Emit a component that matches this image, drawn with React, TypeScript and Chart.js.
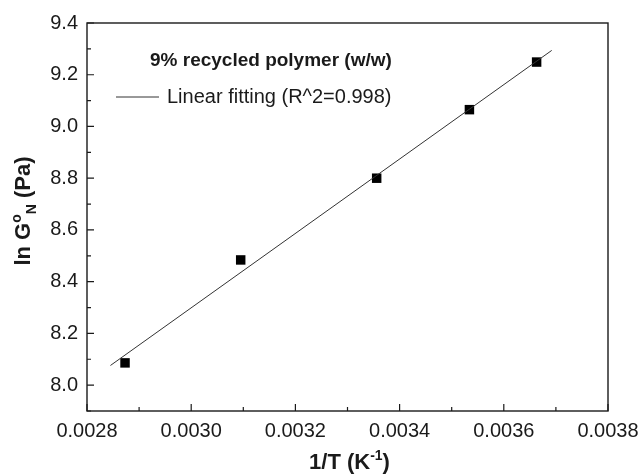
import React, { useEffect, useRef } from 'react';
import { Chart, registerables } from 'chart.js';

Chart.register(...registerables);

const invT = [0.002873, 0.003095, 0.003356, 0.003534, 0.003663];
const lnG = [8.086, 8.484, 8.8, 9.065, 9.249];
const fitX = [0.002845, 0.003692];
const fitY = [8.076, 9.294];
const xTicks = [0.0028, 0.003, 0.0032, 0.0034, 0.0036, 0.0038];
const xMinor = [0.0029, 0.0031, 0.0033, 0.0035, 0.0037];
const yTicks = [8.0, 8.2, 8.4, 8.6, 8.8, 9.0, 9.2, 9.4];
const yMinor = [7.9, 8.1, 8.3, 8.5, 8.7, 8.9, 9.1, 9.3];
const legendTitle = '9% recycled polymer (w/w)';
const fitLabel = 'Linear fitting (R^2=0.998)';

const FONT = 'Arial, "Liberation Sans", Helvetica, sans-serif';
const INK = '#1a1a1a';

const decorPlugin = {
  id: 'decor',
  afterDraw(chart: any) {
    const { ctx, chartArea: ca, scales } = chart;
    const xs = scales.x;
    const ys = scales.y;
    ctx.save();
    ctx.strokeStyle = INK;
    ctx.lineWidth = 1.4;
    ctx.strokeRect(ca.left, ca.top, ca.right - ca.left, ca.bottom - ca.top);
    ctx.lineWidth = 1.2;
    ctx.beginPath();
    xTicks.forEach((v) => {
      const px = xs.getPixelForValue(v);
      ctx.moveTo(px, ca.bottom);
      ctx.lineTo(px, ca.bottom - 7);
    });
    xMinor.forEach((v) => {
      const px = xs.getPixelForValue(v);
      ctx.moveTo(px, ca.bottom);
      ctx.lineTo(px, ca.bottom - 4);
    });
    yTicks.forEach((v) => {
      const py = ys.getPixelForValue(v);
      ctx.moveTo(ca.left, py);
      ctx.lineTo(ca.left + 7, py);
    });
    yMinor.forEach((v) => {
      const py = ys.getPixelForValue(v);
      ctx.moveTo(ca.left, py);
      ctx.lineTo(ca.left + 4, py);
    });
    ctx.stroke();

    // legend
    ctx.fillStyle = INK;
    ctx.textBaseline = 'middle';
    ctx.textAlign = 'left';
    ctx.font = `bold 19px ${FONT}`;
    ctx.fillText(legendTitle, 150, 61);
    ctx.strokeStyle = '#333';
    ctx.lineWidth = 1;
    ctx.beginPath();
    ctx.moveTo(116, 97);
    ctx.lineTo(159, 97);
    ctx.stroke();
    ctx.font = `20px ${FONT}`;
    ctx.fillText(fitLabel, 167, 97);

    // x title
    ctx.textBaseline = 'alphabetic';
    const big = `bold 22px ${FONT}`;
    const small = `bold 14px ${FONT}`;
    const p1 = '1/T (K';
    const sup = '-1';
    const p2 = ')';
    ctx.font = big;
    const w1 = ctx.measureText(p1).width;
    const w2 = ctx.measureText(p2).width;
    ctx.font = small;
    const ws = ctx.measureText(sup).width;
    const total = w1 + ws + w2;
    const x0 = (ca.left + ca.right) / 2 - total / 2 + 2;
    const by = 469;
    ctx.font = big;
    ctx.fillText(p1, x0, by);
    ctx.font = small;
    ctx.fillText(sup, x0 + w1, by - 9);
    ctx.font = big;
    ctx.fillText(p2, x0 + w1 + ws, by);

    // y title (rotated)
    ctx.save();
    ctx.translate(30, (ca.top + ca.bottom) / 2 - 6);
    ctx.rotate(-Math.PI / 2);
    const q1 = 'ln G';
    const qo = 'o';
    const qn = 'N';
    const q2 = ' (Pa)';
    ctx.font = big;
    const a1 = ctx.measureText(q1).width;
    const a2 = ctx.measureText(q2).width;
    ctx.font = small;
    const ao = ctx.measureText(qo).width;
    const an = ctx.measureText(qn).width;
    const tot = a1 + ao + an + a2;
    let sx = -tot / 2;
    ctx.font = big;
    ctx.fillText(q1, sx, 0);
    sx += a1;
    ctx.font = small;
    ctx.fillText(qo, sx, -9);
    sx += ao;
    ctx.fillText(qn, sx, 6);
    sx += an;
    ctx.font = big;
    ctx.fillText(q2, sx, 0);
    ctx.restore();

    ctx.restore();
  },
};

export default function App() {
  const ref = useRef<HTMLCanvasElement | null>(null);
  useEffect(() => {
    document.body.style.margin = '0';
    const canvas = ref.current;
    if (!canvas) return;
    const chart = new Chart(canvas, {
      type: 'scatter',
      data: {
        datasets: [
          {
            type: 'line',
            label: fitLabel,
            data: fitX.map((x, i) => ({ x, y: fitY[i] })),
            borderColor: '#333',
            borderWidth: 1,
            pointRadius: 0,
            fill: false,
          } as any,
          {
            label: legendTitle,
            data: invT.map((x, i) => ({ x, y: lnG[i] })),
            pointStyle: 'rect',
            pointRadius: 6.7,
            backgroundColor: '#000',
            borderColor: '#000',
            borderWidth: 0,
          },
        ],
      },
      options: {
        animation: false,
        responsive: false,
        maintainAspectRatio: false,
        layout: { padding: { top: 23, right: 32, left: 0, bottom: 0 } },
        plugins: { legend: { display: false }, tooltip: { enabled: false } },
        scales: {
          x: {
            type: 'linear',
            min: 0.0028,
            max: 0.0038,
            afterBuildTicks: (a: any) => {
              a.ticks = xTicks.map((v) => ({ value: v }));
            },
            afterFit: (a: any) => {
              a.height = 63;
              a.paddingLeft = 0;
              a.paddingRight = 0;
            },
            grid: { display: false, drawTicks: false },
            border: { display: false },
            ticks: {
              callback: (v: any) => Number(v).toFixed(4),
              font: { family: FONT, size: 20 },
              color: INK,
              padding: 8,
              maxRotation: 0,
              autoSkip: false,
            },
          },
          y: {
            type: 'linear',
            min: 7.9,
            max: 9.4,
            afterBuildTicks: (a: any) => {
              a.ticks = yTicks.map((v) => ({ value: v }));
            },
            afterFit: (a: any) => {
              a.width = 87;
              a.paddingTop = 0;
              a.paddingBottom = 0;
            },
            grid: { display: false, drawTicks: false },
            border: { display: false },
            ticks: {
              callback: (v: any) => Number(v).toFixed(1),
              font: { family: FONT, size: 20 },
              color: INK,
              padding: 9,
              autoSkip: false,
            },
          },
        },
      },
      plugins: [decorPlugin],
    } as any);
    return () => chart.destroy();
  }, []);
  return (
    <div style={{ position: 'absolute', left: 0, top: 0, width: 640, height: 474, background: '#fff' }}>
      <canvas ref={ref} width={640} height={474} style={{ width: 640, height: 474, display: 'block' }} />
    </div>
  );
}
